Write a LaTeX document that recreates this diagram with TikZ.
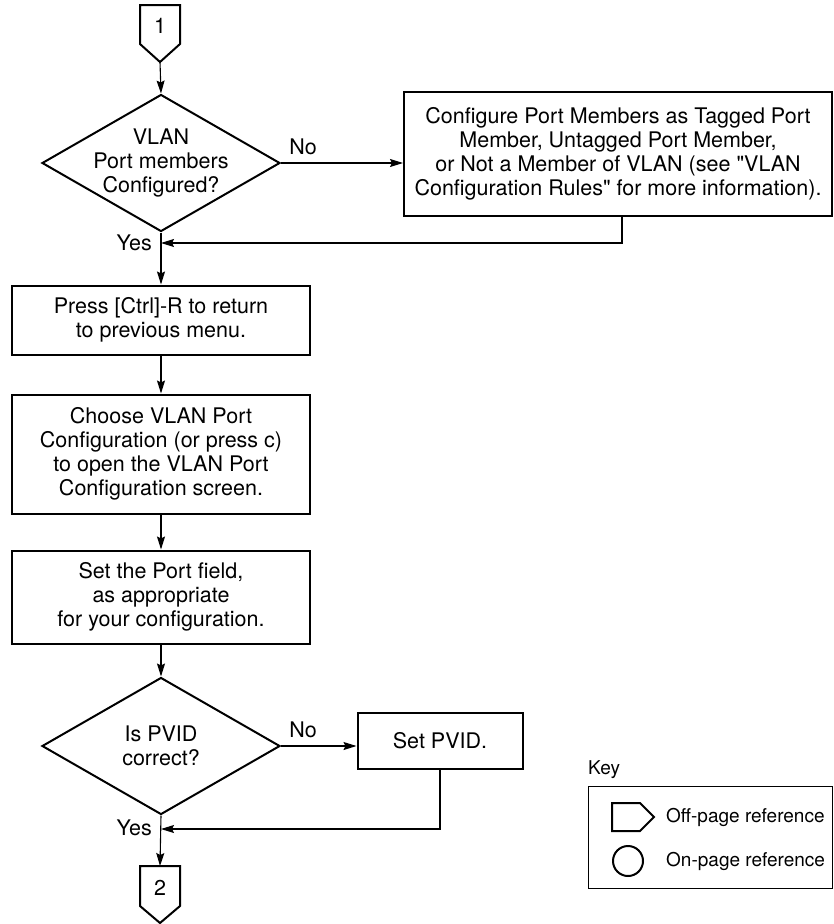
\documentclass[tikz,border=0pt]{standalone}
\usepackage{fontspec}
\setmainfont{TeX Gyre Heros}
\usetikzlibrary{shapes.geometric,arrows.meta}
\tikzset{
  stepbox/.style={draw,line width=2pt,align=center,inner sep=0pt,minimum width=298},
  decide/.style={draw,diamond,line width=2pt,inner sep=0pt,minimum width=238,minimum height=137},
  offpage/.style={draw,line width=2pt,line join=miter},
  flow/.style={line width=1.1pt,-{Stealth[length=13pt,width=8pt,inset=2pt]}},
  txt/.style={inner sep=0pt,align=center},
}
\begin{document}
\begin{tikzpicture}[x=1pt,y=-1pt,font=\fontsize{21.5}{24}\selectfont]
\useasboundingbox (0,0) rectangle (834,924);
% off-page reference 1
\draw[offpage] (140,5) -- (180,5) -- (180,44) -- (160,62) -- (140,44) -- cycle;
\node[txt] (p1) at (160,26) {1};
\coordinate (p1tip) at (160,62);
% first decision
\node[decide] (q1) at (161,163) {};
\node[txt] (q1t) at (q1) {VLAN\\Port members\\Configured?};
\node[stepbox,minimum width=428,minimum height=124] (conf) at (618,154)
  {Configure Port Members as Tagged Port\\Member, Untagged Port Member,\\or Not a Member of VLAN (see \textquotedbl VLAN\\Configuration Rules\textquotedbl{} for more information).};
\node[txt] (no1) at (303,147) {No};
\node[txt,anchor=east] (yes1) at (152,243) {Yes};
\coordinate (j1) at (161,243);
% main column
\node[stepbox,minimum height=69] (ret) at (161,320) {Press [Ctrl]-R to return\\to previous menu.};
\node[stepbox,minimum height=119] (vpc) at (161,454) {Choose VLAN Port\\Configuration (or press c)\\to open the VLAN Port\\Configuration screen.};
\node[stepbox,minimum height=93] (port) at (161,597) {Set the Port field,\\as appropriate\\for your configuration.};
\node[decide] (q2) at (161,746) {};
\node[txt] (q2t) at (q2) {Is PVID\\correct?};
\node[stepbox,minimum width=165,minimum height=56] (pvid) at (440,741) {Set PVID.};
\node[txt] (no2) at (303,730) {No};
\node[txt,anchor=east] (yes2) at (152,828) {Yes};
\coordinate (j2) at (161,829);
% off-page reference 2
\draw[offpage] (140,866) -- (180,866) -- (180,906) -- (160,923) -- (140,906) -- cycle;
\node[txt] (p2) at (160,888) {2};
\coordinate (p2top) at (160,866);
% connectors
\draw[flow] (p1tip) -- (q1.north);
\draw[flow] (q1.east) -- (q1.east -| conf.west);
\draw[flow] ([xshift=4pt]conf.south) |- (j1);
\draw[flow] (q1.south) -- (ret.north);
\draw[flow] (ret) -- (vpc);
\draw[flow] (vpc) -- (port);
\draw[flow] (port.south) -- (q2.north);
\draw[flow] (q2.east) -- (q2.east -| pvid.west);
\draw[flow] (pvid.south) |- (j2);
\draw[flow] (q2.south) -- (p2top);
% key
\begin{scope}[font=\fontsize{19}{22}\selectfont]
\node[txt,anchor=west] (key) at (588,770) {Key};
\draw[line width=1pt] (588,786) rectangle (832,888);
\draw[offpage] (612,803) -- (640,803) -- (654,817) -- (640,831) -- (612,831) -- cycle;
\draw[line width=2pt] (628,861) circle (15);
\node[txt,anchor=west] (koff) at (666,817) {Off-page reference};
\node[txt,anchor=west] (kon) at (666,861) {On-page reference};
\end{scope}
\end{tikzpicture}
\end{document}
